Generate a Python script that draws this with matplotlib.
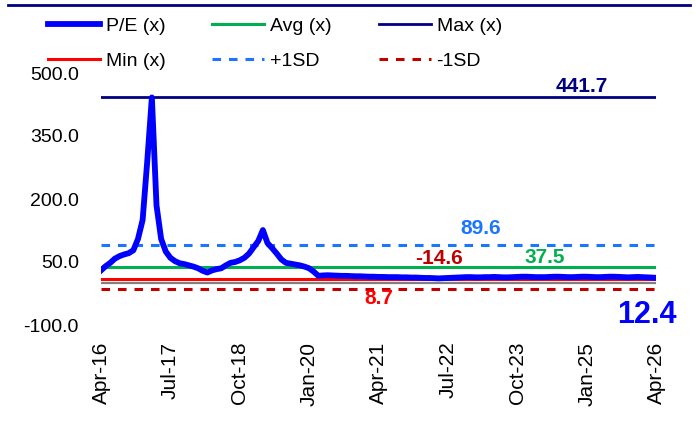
import matplotlib.pyplot as plt
from matplotlib.lines import Line2D

plt.rcParams['font.family'] = ['Liberation Sans', 'DejaVu Sans']

# P/E monthly, Apr-16 .. Apr-26
pe = [30, 40, 48, 58, 64, 68, 71, 78, 105, 150, 290, 441.7, 185, 105,
      75, 60, 52, 47, 45, 42, 39, 35, 29, 25, 30, 33, 35, 42, 48, 50, 54, 60,
      70, 85, 100, 126, 95, 83, 70, 56, 48, 46, 44, 42, 39, 35, 27, 17,
      18, 18.5, 18, 17.5, 17, 17, 16.5, 16, 16, 15.5, 15, 15,
      14.5, 14.5, 14, 14, 14, 13.5, 13.5, 13, 13, 12.5, 12, 12,
      11.5, 11, 11.5, 12, 12.5, 13, 13.5, 14, 14, 13.5, 13.5, 14,
      14, 14.5, 14, 13.5, 13.5, 14, 14.5, 15, 15, 14.5, 14, 14,
      14, 14.5, 15, 15, 14.5, 14, 14, 14.5, 15, 15, 14.5, 14,
      14, 14.5, 15, 15, 14.5, 14, 13.5, 14, 14.5, 14, 13.5, 13, 12.4]
avg_pe = 37.5
max_pe = 441.7
min_pe = 8.7
plus_sd = 89.6
minus_sd = -14.6
last_pe = 12.4

tick_pos = [0, 15, 30, 45, 60, 75, 90, 105, 120]
tick_labels = ['Apr-16', 'Jul-17', 'Oct-18', 'Jan-20', 'Apr-21',
               'Jul-22', 'Oct-23', 'Jan-25', 'Apr-26']
y_ticks = [-100, 50, 200, 350, 500]

c_pe = '#0000FF'
c_avg = '#00B050'
c_max = '#000080'
c_min = '#FF0000'
c_psd = '#1A75FF'
c_msd = '#C00000'

fig = plt.figure(figsize=(6.96, 4.28), dpi=100)
ax = fig.add_axes([101 / 696, 1 - 325 / 428, 555 / 696, 252 / 428])

x = list(range(len(pe)))
n = len(pe)
ax.axhline(0, color='#808080', lw=1.6, zorder=1)
h_max, = ax.plot(x, [max_pe] * n, color=c_max, lw=2.0)
h_psd, = ax.plot(x, [plus_sd] * n, color=c_psd, lw=2.2, dashes=(2.8, 2.6))
h_avg, = ax.plot(x, [avg_pe] * n, color=c_avg, lw=2.2)
h_min, = ax.plot(x, [min_pe] * n, color=c_min, lw=2.2)
h_msd, = ax.plot(x, [minus_sd] * n, color=c_msd, lw=2.2, dashes=(2.8, 2.6))
h_pe, = ax.plot(x, pe, color=c_pe, lw=4.2, solid_joinstyle='round', zorder=5)

ax.set_xlim(0, 120)
ax.set_ylim(-100, 500)
ax.set_yticks(y_ticks)
ax.set_yticklabels([f'{v:.1f}' for v in y_ticks])
ax.set_xticks(tick_pos)
ax.set_xticklabels(tick_labels, rotation=90)
ax.tick_params(axis='both', length=0)
ax.tick_params(axis='y', pad=16, labelsize=14)
ax.tick_params(axis='x', pad=12, labelsize=15)
for s in ax.spines.values():
    s.set_visible(False)

# value labels
ax.text(104, max_pe + 25, f'{max_pe:.1f}', color=c_max, fontsize=15,
        fontweight='bold', ha='center', va='center')
ax.text(82, plus_sd + 40, f'{plus_sd:.1f}', color=c_psd, fontsize=15,
        fontweight='bold', ha='center', va='center')
ax.text(73, avg_pe + 22, f'{minus_sd:.1f}', color=c_msd, fontsize=15,
        fontweight='bold', ha='center', va='center')
ax.text(96, avg_pe + 24, f'{avg_pe:.1f}', color=c_avg, fontsize=15,
        fontweight='bold', ha='center', va='center')
ax.text(60, min_pe - 45, f'{min_pe:.1f}', color=c_min, fontsize=15,
        fontweight='bold', ha='center', va='center')
ax.text(118, last_pe - 88, f'{last_pe:.1f}', color=c_pe, fontsize=22,
        fontweight='bold', ha='center', va='center')

handles = [h_pe, h_min, h_avg, h_psd, h_max, h_msd]
labels = ['P/E (x)', 'Min (x)', 'Avg (x)', '+1SD', 'Max (x)', '-1SD']
fig.legend(handles, labels, ncol=3, loc='upper left',
           bbox_to_anchor=(48 / 696, 1 - 17 / 428), frameon=False,
           fontsize=14, handlelength=2.68, handletextpad=0.3,
           columnspacing=2.4, labelspacing=0.9, borderpad=0, borderaxespad=0)

fig.add_artist(Line2D([8 / 696, 690 / 696], [1 - 5 / 428, 1 - 5 / 428],
                      transform=fig.transFigure, color=c_max, lw=2))

fig.savefig('out.png', dpi=100)
